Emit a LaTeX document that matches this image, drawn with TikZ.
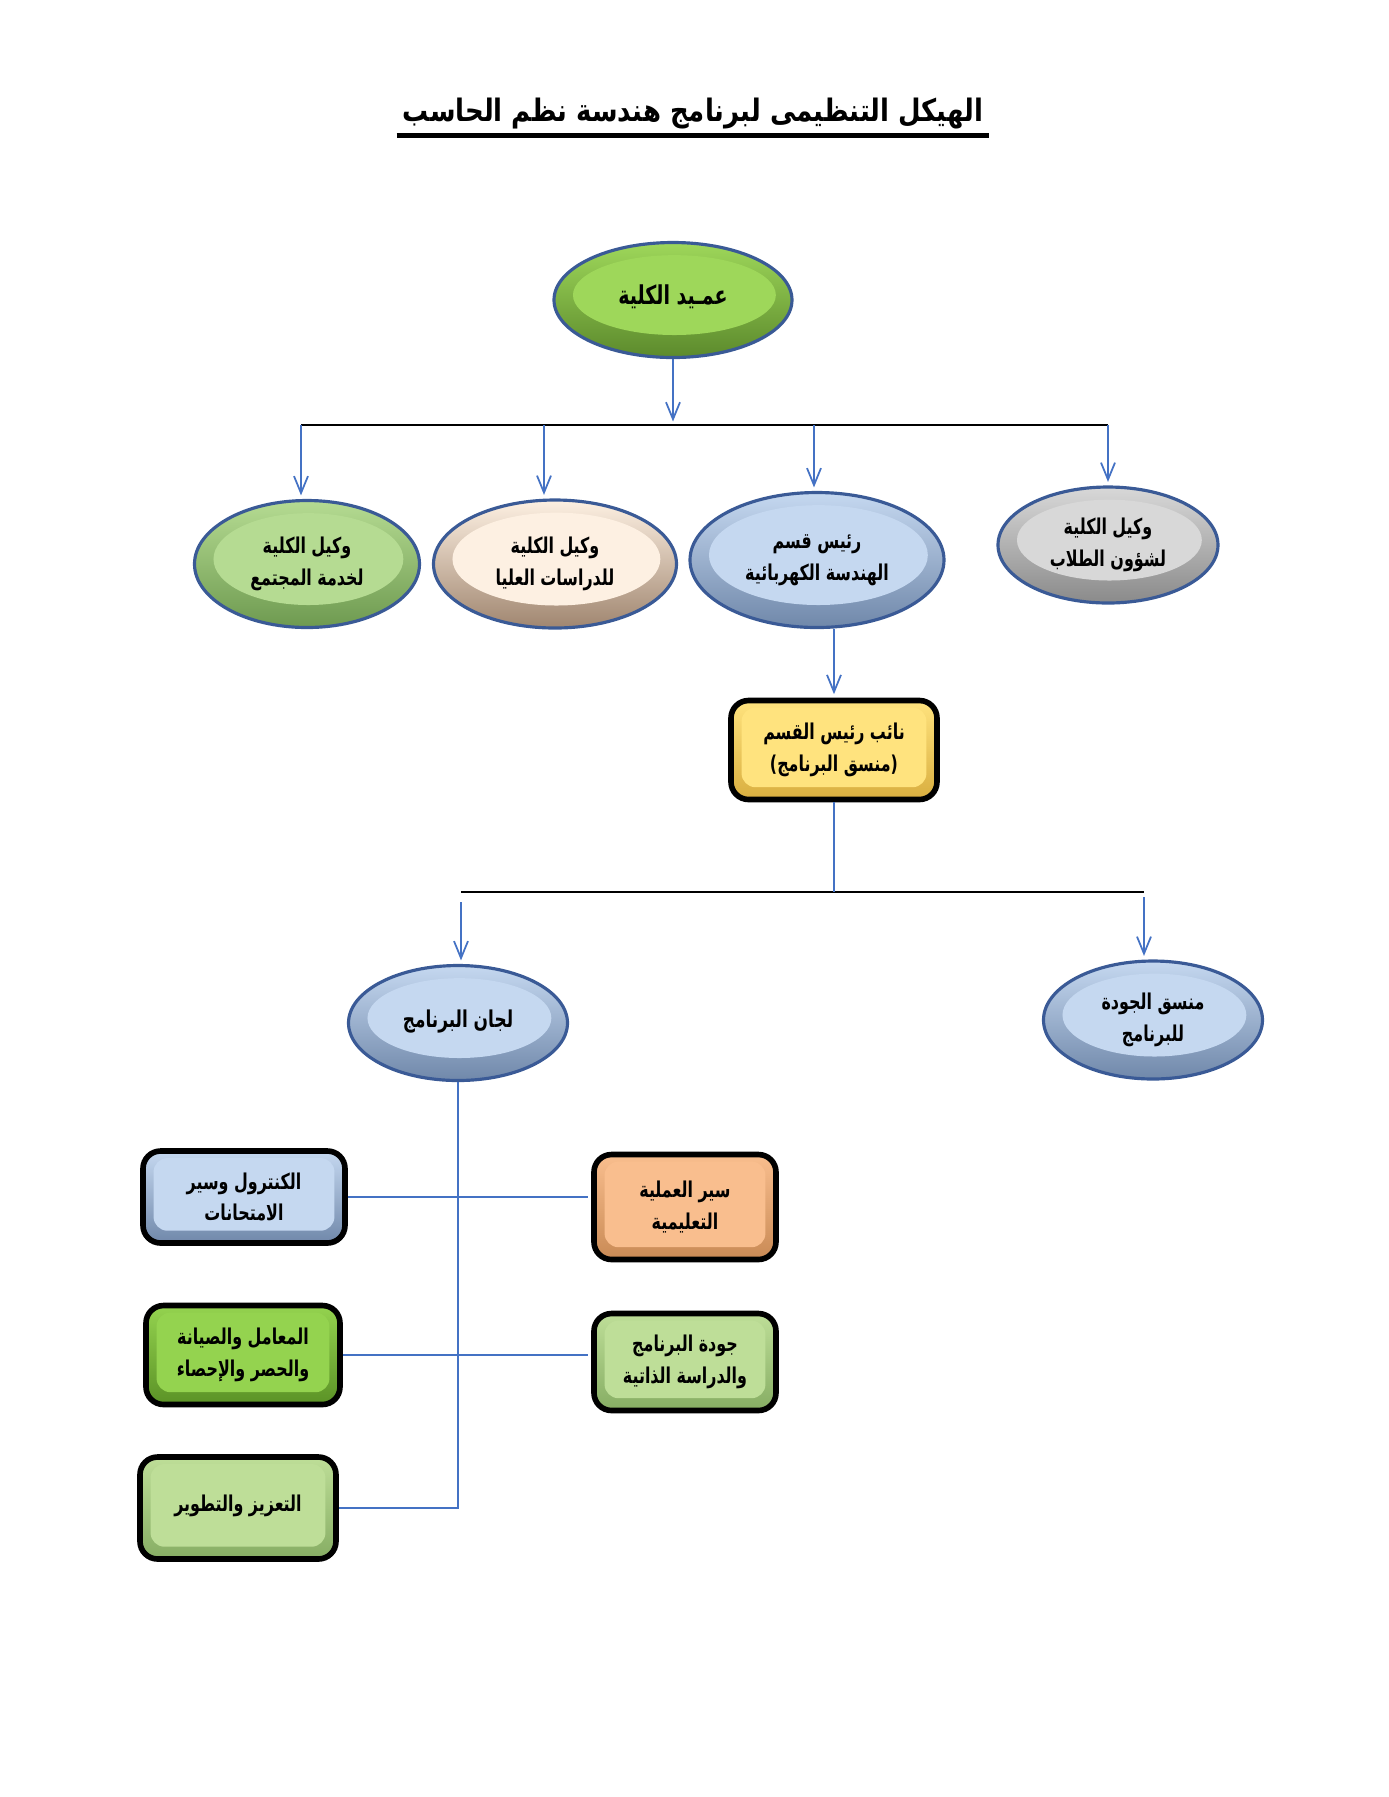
\documentclass[tikz,border=0pt]{standalone}
\usepackage{fontspec}
\newfontfamily\arabicfont[Script=Arabic,FakeStretch=0.73]{DejaVu Sans}
\newfontfamily\arabictitle[Script=Arabic,FakeStretch=0.84]{DejaVu Sans}
\TeXXeTstate=1
\usetikzlibrary{calc,arrows.meta,shapes.geometric}
\newcommand\artxt[1]{{\arabicfont\bfseries\beginR #1\endR}}
\definecolor{linkblue}{HTML}{4472C4}
\definecolor{ovaledge}{HTML}{3A5A96}
\definecolor{deanin}{HTML}{9ED75A}   \definecolor{deanrim}{HTML}{5C8A2C}
\definecolor{commin}{HTML}{B5DB92}   \definecolor{commrim}{HTML}{6E9A50}
\definecolor{pgin}{HTML}{FDF0E2}     \definecolor{pgrim}{HTML}{A08670}
\definecolor{bluein}{HTML}{C5D8F0}   \definecolor{bluerim}{HTML}{7088AA}
\definecolor{grayin}{HTML}{D8D8D8}   \definecolor{grayrim}{HTML}{8A8A8A}
\definecolor{yellowin}{HTML}{FFE37E} \definecolor{yellowrim}{HTML}{D9AE3F}
\definecolor{orangein}{HTML}{F9BE8E} \definecolor{orangerim}{HTML}{C98A55}
\definecolor{limein}{HTML}{94D34F}   \definecolor{limerim}{HTML}{5B9226}
\definecolor{sagein}{HTML}{BEDE98}   \definecolor{sagerim}{HTML}{86AD63}
\tikzset{
    bevel oval/.style 2 args={
        ellipse, draw=ovaledge, line width=0.9pt, inner sep=0pt, align=center,
        top color=#1, bottom color=#2,
        font=\fontsize{6.2}{9}\selectfont,
        path picture={
            \fill[#1] let \p1=(path picture bounding box.south west),
                          \p2=(path picture bounding box.north east) in
            ($(\p1)!0.5!(\p2)+(0.4pt,1.4pt)$)
            ellipse [x radius={0.5*(\x2-\x1)-5pt}, y radius={0.5*(\y2-\y1)-5pt}];
        }
    },
    bevel box/.style 2 args={
        rectangle, rounded corners=5pt, draw=black, line width=1.6pt,
        inner sep=0pt, align=center, top color=#1, bottom color=#2,
        font=\fontsize{6.2}{9}\selectfont,
        path picture={
            \fill[#1, rounded corners=4pt]
            ($(path picture bounding box.south west)+(3pt,3.5pt)$) rectangle
            ($(path picture bounding box.north east)+(-3pt,-2pt)$);
        }
    },
    arr/.style={draw=linkblue, line width=0.5pt, -{Straight Barb[length=1.7mm,width=1.4mm]}, shorten >=1pt},
    busline/.style={draw=black, line width=0.8pt},
    thinlink/.style={draw=linkblue, line width=0.5pt}
}

\begin{document}
\begin{tikzpicture}
\useasboundingbox (0,0) rectangle (13.89,-17.97);

\node[inner sep=1.5pt, font=\fontsize{8.8}{10}\selectfont] (title) at (6.93,-1.14)
    {{\arabictitle\bfseries\beginR الهيكل التنظيمى لبرنامج هندسة نظم الحاسب\endR}};
\draw[line width=1.3pt] (title.south west) -- (title.south east);

\node[bevel oval={deanin}{deanrim}, minimum width=2.38cm, minimum height=1.15cm, font=\fontsize{7.4}{9}\selectfont] (dean) at (6.73,-3.00)
    {\raisebox{3pt}{\artxt{عمـيد الكلية}}};
\node[bevel oval={commin}{commrim}, minimum width=2.25cm, minimum height=1.27cm] (comm) at (3.07,-5.64)
    {\artxt{وكيل الكلية}\\\artxt{لخدمة المجتمع}};
\node[bevel oval={pgin}{pgrim}, minimum width=2.43cm, minimum height=1.28cm] (pg) at (5.55,-5.64)
    {\artxt{وكيل الكلية}\\\artxt{للدراسات العليا}};
\node[bevel oval={bluein}{bluerim}, minimum width=2.54cm, minimum height=1.35cm] (head) at (8.17,-5.60)
    {\artxt{رئيس قسم}\\\artxt{الهندسة الكهربائية}};
\node[bevel oval={grayin}{grayrim}, minimum width=2.20cm, minimum height=1.16cm] (stud) at (11.08,-5.45)
    {\artxt{وكيل الكلية}\\\artxt{لشؤون الطلاب}};

\node[bevel box={yellowin}{yellowrim}, minimum width=2.06cm, minimum height=0.99cm] (vice) at (8.34,-7.50)
    {\artxt{نائب رئيس القسم}\\\artxt{(منسق البرنامج)}};

\node[bevel oval={bluein}{bluerim}, minimum width=2.19cm, minimum height=1.15cm, font=\fontsize{6.6}{9}\selectfont] (cmte) at (4.58,-10.23)
    {\raisebox{2.5pt}{\artxt{لجان البرنامج}}};
\node[bevel oval={bluein}{bluerim}, minimum width=2.19cm, minimum height=1.18cm] (qcoord) at (11.53,-10.20)
    {\artxt{منسق الجودة}\\\artxt{للبرنامج}};

\node[bevel box={bluein}{bluerim}, minimum width=2.02cm, minimum height=0.92cm] (ctrl) at (2.44,-11.97)
    {\artxt{الكنترول وسير}\\\artxt{الامتحانات}};
\node[bevel box={orangein}{orangerim}, minimum width=1.82cm, minimum height=1.05cm] (proc) at (6.85,-12.07)
    {\artxt{سير العملية}\\\artxt{التعليمية}};
\node[bevel box={limein}{limerim}, minimum width=1.94cm, minimum height=0.99cm] (labs) at (2.43,-13.55)
    {\artxt{المعامل والصيانة}\\\artxt{والحصر والإحصاء}};
\node[bevel box={sagein}{sagerim}, minimum width=1.82cm, minimum height=0.97cm] (pqual) at (6.85,-13.62)
    {\artxt{جودة البرنامج}\\\artxt{والدراسة الذاتية}};
\node[bevel box={sagein}{sagerim}, minimum width=1.96cm, minimum height=1.02cm] (enh) at (2.38,-15.08)
    {\raisebox{3pt}{\artxt{التعزيز والتطوير}}};

\coordinate (bus1w) at (3.01,-4.25);
\coordinate (bus1e) at (11.08,-4.25);
\draw[busline] (bus1w) -- (bus1e);
\draw[arr] (dean) -- (dean |- bus1w);
\foreach \n/\x in {comm/3.01,pg/5.44,head/8.14,stud/11.08}
    \draw[arr] (\x,0 |- bus1w) -- (\x,0 |- \n.north);

\draw[arr] (vice.north |- head.south) -- (vice.north);

\coordinate (bus2w) at (4.61,-8.92);
\coordinate (bus2e) at (11.44,-8.92);
\draw[busline] (bus2w) -- (bus2e);
\draw[thinlink] (vice.south) -- (vice.south |- bus2w);
\draw[arr] ([yshift=-1mm]bus2w) -- (bus2w |- cmte.north);
\draw[arr] ([yshift=-0.5mm]bus2e) -- (bus2e |- qcoord.north);

\draw[thinlink] (cmte.south) -- (cmte.south |- enh.east) -- (enh.east);
\draw[thinlink, shorten >=1pt] (ctrl.east) -- (proc.west |- ctrl.east);
\draw[thinlink, shorten >=1pt] (labs.east) -- (pqual.west |- labs.east);
\end{tikzpicture}
\end{document}
